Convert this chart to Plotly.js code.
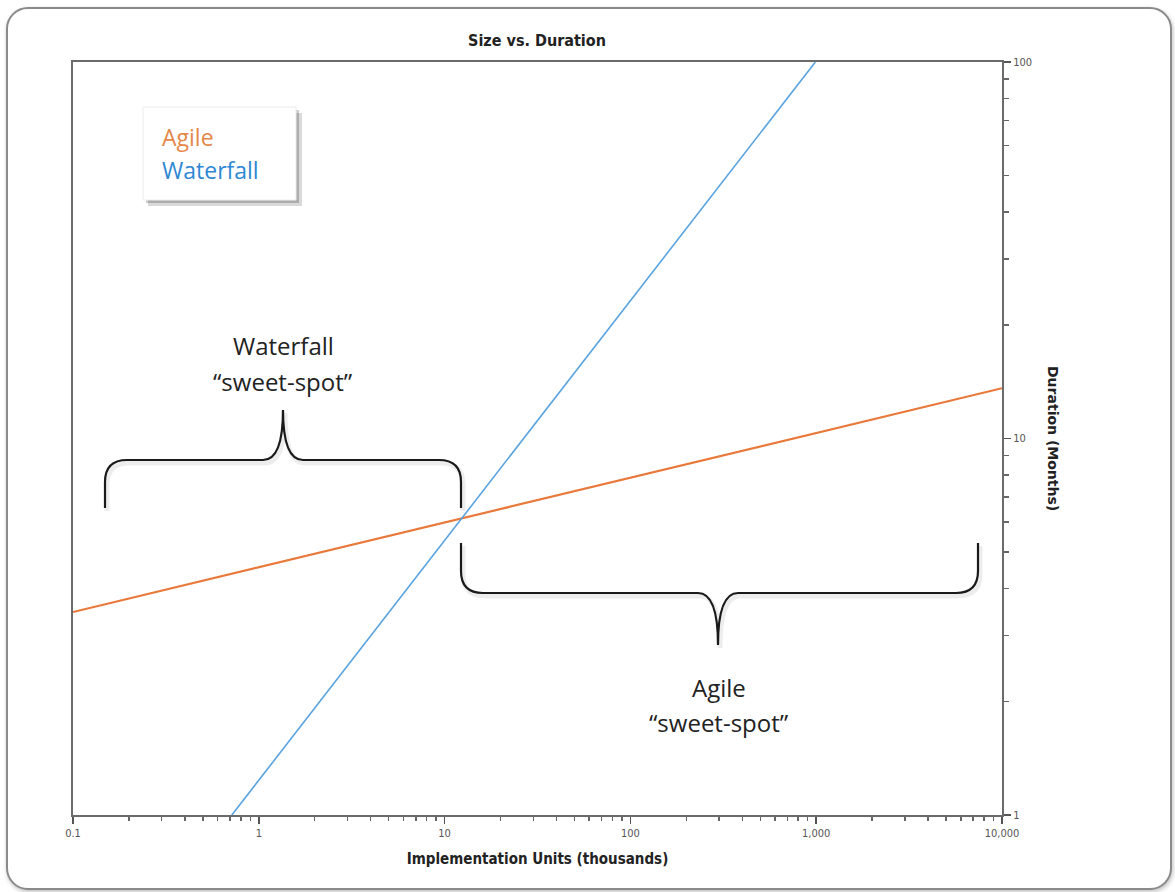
<!DOCTYPE html>
<html>
<head>
<meta charset="utf-8">
<script src="https://cdn.plot.ly/plotly-3.0.1.min.js"></script>
<style>
  html, body { margin:0; padding:0; background:#ffffff; }
  #frame { position:absolute; left:6px; top:7px; width:1162px; height:879px;
           border:2px solid #8a8a8a; border-radius:22px; box-shadow:1px 2px 4px rgba(0,0,0,0.25); background:#fff; }
  #chart { position:absolute; left:0; top:0; width:1175px; height:892px; }
</style>
</head>
<body>
<div id="frame"></div>
<div id="chart"></div>
<script>
// ---- data ----
var agileX = [0.1, 10000];
var agileY = [3.46, 13.6];
var waterfallX = [0.716, 990];
var waterfallY = [1, 100];

var xTickVals = [0.1, 1, 10, 100, 1000, 10000];
var xTickText = ["0.1", "1", "10", "100", "1,000", "10,000"];
var yTickVals = [1, 10, 100];
var yTickText = ["1", "10", "100"];

var legendNames = ["Agile", "Waterfall"];
var noteLines1 = ["Waterfall", "\u201csweet-spot\u201d"];
var noteLines2 = ["Agile", "\u201csweet-spot\u201d"];

// ---- layout helpers (pixel -> paper) ----
var W = 1175, H = 892, L = 73, R = 1002, T = 62, B = 815;
function px(x){ return (x - L) / (R - L); }
function py(y){ return (B - y) / (B - T); }
function path(cmds){
  return cmds.map(function(c){
    var s = c[0];
    for (var i = 1; i < c.length; i += 2) {
      s += px(c[i]).toFixed(5) + ',' + py(c[i+1]).toFixed(5) + ' ';
    }
    return s.trim();
  }).join(' ');
}

var brace1 = [['M',105,508],['L',105,482],['Q',105,460,127,460],['L',263,460],['Q',283,460,283,410],
              ['Q',283,460,303,460],['L',439,460],['Q',461,460,461,482],['L',461,508]];
var brace2 = [['M',461,543],['L',461,571],['Q',461,593,483,593],['L',698,593],['Q',718,593,718,645],
              ['Q',718,593,738,593],['L',956,593],['Q',978,593,978,571],['L',978,543]];
function shifted(cmds, dx, dy){
  return cmds.map(function(c){ var n=[c[0]]; for(var i=1;i<c.length;i+=2){ n.push(c[i]+dx, c[i+1]+dy);} return n; });
}

var traces = [
  { x: agileX, y: agileY, mode: 'lines', name: legendNames[0],
    line: { color: '#E8793A', width: 2.2 }, hoverinfo: 'skip' },
  { x: waterfallX, y: waterfallY, mode: 'lines', name: legendNames[1],
    line: { color: '#5AA3DE', width: 1.6 }, hoverinfo: 'skip' }
];

var shapes = [
  { type:'path', xref:'paper', yref:'paper', path: path(shifted(brace1,2,3)), line:{color:'rgba(0,0,0,0.07)', width:5} },
  { type:'path', xref:'paper', yref:'paper', path: path(shifted(brace2,2,3)), line:{color:'rgba(0,0,0,0.07)', width:5} },
  { type:'path', xref:'paper', yref:'paper', path: path(brace1), line:{color:'#1a1a1a', width:2.2} },
  { type:'path', xref:'paper', yref:'paper', path: path(brace2), line:{color:'#1a1a1a', width:2.2} },
  // legend box shadow + box
  { type:'rect', xref:'paper', yref:'paper', x0:px(148), x1:px(302), y0:py(206), y1:py(113),
    fillcolor:'rgba(0,0,0,0.15)', line:{width:0} },
  { type:'rect', xref:'paper', yref:'paper', x0:px(146), x1:px(299), y0:py(203), y1:py(110),
    fillcolor:'rgba(0,0,0,0.20)', line:{width:0} },
  { type:'rect', xref:'paper', yref:'paper', x0:px(143), x1:px(296), y0:py(200), y1:py(107),
    fillcolor:'#ffffff', line:{color:'#ececec', width:1} }
];

var textFont = 'Open Sans, Lato, sans-serif';
var annotations = [
  { xref:'paper', yref:'paper', x:px(160), y:py(137), xanchor:'left', yanchor:'middle', showarrow:false,
    text: legendNames[0], font:{family:textFont, size:23, color:'#E4874A'} },
  { xref:'paper', yref:'paper', x:px(160), y:py(170), xanchor:'left', yanchor:'middle', showarrow:false,
    text: legendNames[1], font:{family:textFont, size:23, color:'#2F87D3'} },
  { xref:'paper', yref:'paper', x:px(283), y:py(345), xanchor:'center', yanchor:'middle', showarrow:false,
    text: noteLines1[0], font:{family:textFont, size:24, color:'#222'} },
  { xref:'paper', yref:'paper', x:px(283), y:py(382), xanchor:'center', yanchor:'middle', showarrow:false,
    text: noteLines1[1], font:{family:textFont, size:24, color:'#222'} },
  { xref:'paper', yref:'paper', x:px(719), y:py(687), xanchor:'center', yanchor:'middle', showarrow:false,
    text: noteLines2[0], font:{family:textFont, size:24, color:'#222'} },
  { xref:'paper', yref:'paper', x:px(719), y:py(722), xanchor:'center', yanchor:'middle', showarrow:false,
    text: noteLines2[1], font:{family:textFont, size:24, color:'#222'} },
  { xref:'paper', yref:'paper', x:px(1053), y:py(438), xanchor:'center', yanchor:'middle', showarrow:false,
    textangle: 90, text: '<b>Duration (Months)</b>',
    font:{family:'DejaVu Sans, Verdana, sans-serif', size:14, color:'#222'} }
];

var condensed = 'DejaVu Sans Condensed, Liberation Sans Narrow, Arial Narrow, sans-serif';
var layout = {
  width: W, height: H,
  margin: { l: L, r: W - R, t: T, b: H - B, pad: 0 },
  paper_bgcolor: 'rgba(0,0,0,0)',
  plot_bgcolor: '#ffffff',
  showlegend: false,
  title: { text: '<b>Size vs. Duration</b>', x: 0.457, xanchor: 'center', y: 0.955, yanchor: 'middle',
           font: { family: condensed, size: 16, color: '#222' } },
  xaxis: {
    type: 'log', range: [-1, 4], showgrid: false, zeroline: false,
    showline: true, linecolor: '#6b6b6b', linewidth: 2, mirror: true,
    ticks: 'outside', ticklen: 7, tickwidth: 1.5, tickcolor: '#555',
    tickmode: 'array', tickvals: xTickVals, ticktext: xTickText,
    tickfont: { family: condensed, size: 11, color: '#555' },
    minor: { ticks: 'outside', ticklen: 4, tickwidth: 1.5, tickcolor: '#666', dtick: 'D1', showgrid: false },
    title: { text: '<b>Implementation Units (thousands)</b>', standoff: 14,
             font: { family: condensed, size: 15, color: '#222' } }
  },
  yaxis: {
    type: 'log', range: [0, 2], side: 'right', showgrid: false, zeroline: false,
    showline: true, linecolor: '#6b6b6b', linewidth: 2, mirror: true,
    ticks: 'outside', ticklen: 7, tickwidth: 1.5, tickcolor: '#555',
    tickmode: 'array', tickvals: yTickVals, ticktext: yTickText,
    tickfont: { family: condensed, size: 11, color: '#555' },
    minor: { ticks: 'outside', ticklen: 5, tickwidth: 1.5, tickcolor: '#666', dtick: 'D1', showgrid: false }
  },
  shapes: shapes,
  annotations: annotations
};

Plotly.newPlot('chart', traces, layout, { staticPlot: true, displayModeBar: false });
</script>
</body>
</html>
